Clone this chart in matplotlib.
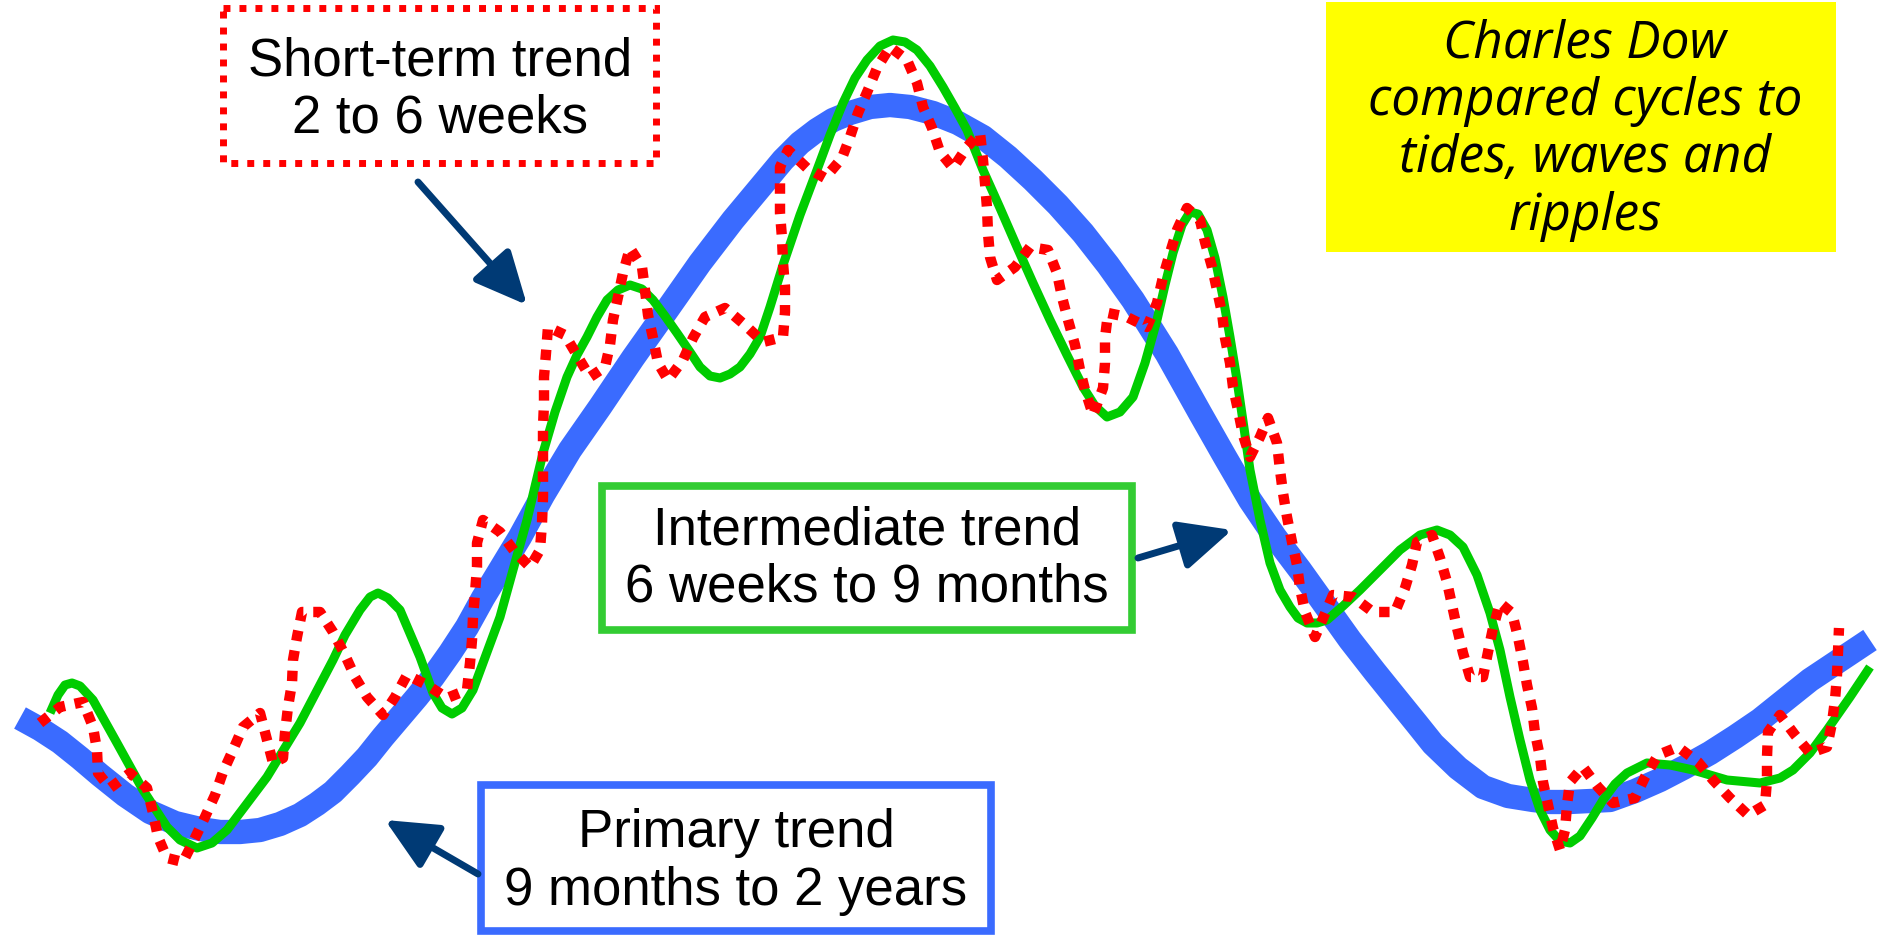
import matplotlib.pyplot as plt
from matplotlib.patches import Rectangle

# primary trend (thick blue)
blue_x = [20, 40, 60, 80, 100, 125, 150, 175, 200, 220, 240, 260, 280, 300, 317, 333, 350, 367, 383, 400,
          417, 433, 450, 467, 483, 500, 520, 543, 570, 600, 633, 667, 700, 733, 758, 783, 800, 817, 833, 850,
          870, 890, 910, 933, 958, 983, 1008, 1033, 1058, 1083, 1108, 1133, 1167, 1200, 1225, 1250, 1275, 1300,
          1325, 1350, 1375, 1400, 1417, 1433, 1458, 1483, 1508, 1533, 1550, 1570, 1590, 1610, 1635, 1660, 1685,
          1710, 1735, 1760, 1785, 1810, 1840, 1870]
blue_y = [718, 729, 742, 758, 775, 795, 812, 823, 829, 832, 832, 830, 824, 815, 804, 792, 775, 757, 737, 717,
          697, 677, 653, 627, 598, 570, 537, 495, 450, 407, 358, 310, 263, 220, 190, 160, 143, 130, 120, 113,
          107, 105, 107, 113, 123, 137, 157, 180, 205, 233, 265, 300, 354, 413, 457, 500, 537, 570,
          605, 640, 672, 703, 724, 744, 768, 787, 796, 800, 802, 802, 801, 800, 791, 780, 767,
          753, 737, 720, 700, 680, 660, 640]

# intermediate trend (green)
green_x = [50, 58, 65, 72, 80, 93, 117, 143, 167, 180, 197, 212, 227, 267, 300, 333, 345, 360, 370, 378,
           388, 400, 420, 433, 442, 452, 462, 473, 500, 513, 527, 543, 555, 567, 577, 587, 597, 607, 618, 630,
           642, 653, 665, 677, 690, 700, 710, 720, 730, 740, 750, 760, 770, 783, 800, 817, 830, 843, 855, 867,
           880, 893, 905, 917, 930, 943, 955, 967, 983, 1000, 1017, 1033, 1050, 1067, 1083, 1095, 1107, 1120,
           1133, 1145, 1157, 1165, 1173, 1182, 1190, 1198, 1207, 1215, 1223, 1230, 1237, 1244, 1250, 1260, 1270,
           1280, 1290, 1298, 1307, 1317, 1327, 1343, 1360, 1380, 1400, 1420, 1437, 1450, 1463, 1477, 1490, 1500,
           1510, 1520, 1530, 1540, 1550, 1560, 1570, 1580, 1592, 1603, 1615, 1627, 1647, 1670, 1693, 1727, 1760,
           1780, 1793, 1810, 1827, 1850, 1870]
green_y = [713, 695, 685, 683, 686, 700, 743, 790, 827, 840, 848, 843, 830, 777, 723, 660, 635, 610, 597, 593,
           598, 610, 657, 693, 708, 714, 708, 690, 617, 570, 520, 453, 412, 377, 355, 337, 317, 300, 290, 285,
           289, 300, 316, 333, 352, 367, 376, 378, 374, 367, 354, 337, 307, 265, 215, 170, 135, 103, 78, 60,
           46, 40, 42, 50, 66, 87, 108, 130, 170, 208, 247, 283, 320, 355, 387, 406, 417, 412,
           397, 363, 320, 285, 253, 225, 212, 214, 230, 258, 297, 337, 380, 428, 470, 520, 563,
           590, 607, 618, 623, 623, 620, 606, 590, 570, 550, 535, 530, 535, 547, 575, 613, 650,
           697, 740, 780, 810, 830, 841, 843, 836, 818, 800, 784, 773, 763, 765, 770, 780, 783,
           778, 770, 753, 730, 697, 667]

# short-term trend (red dotted)
red_x = [40, 60, 83, 93, 97, 98, 110, 130, 147, 153, 158, 167, 183, 195, 205, 215, 223, 233, 243, 260,
         267, 273, 283, 285, 288, 292, 293, 297, 302, 320, 333, 345, 355, 367, 383, 395, 407, 427, 447, 467,
         470, 472, 473, 475, 477, 477, 483, 500, 515, 530, 540, 542, 543, 543, 543, 543, 544, 544, 546, 548,
         565, 578, 590, 605, 610, 613, 618, 623, 630, 642, 645, 648, 653, 658, 668, 683, 693, 705, 725, 745,
         763, 783, 785, 785, 783, 782, 780, 780, 780, 788, 807, 825, 842, 850, 858, 868, 877, 890, 907, 917,
         923, 932, 940, 953, 967, 980, 983, 985, 987, 988, 990, 997, 1015, 1030, 1048, 1057, 1062, 1068, 1075,
         1080, 1085, 1093, 1103, 1105, 1105, 1108, 1127, 1147, 1157, 1163, 1170, 1177, 1187, 1200, 1205, 1212,
         1217, 1222, 1225, 1230, 1233, 1238, 1243, 1250, 1260, 1268, 1277, 1280, 1283, 1287, 1292, 1297, 1300,
         1305, 1315, 1333, 1353, 1373, 1395, 1405, 1412, 1417, 1432, 1440, 1447, 1452, 1457, 1463, 1470, 1483,
         1488, 1493, 1500, 1512, 1518, 1523, 1527, 1532, 1535, 1540, 1543, 1548, 1553, 1560, 1565, 1567, 1570,
         1583, 1598, 1613, 1635, 1645, 1658, 1678, 1698, 1713, 1730, 1748, 1765, 1767, 1767, 1768, 1780, 1795,
         1810, 1827, 1832, 1835, 1837, 1838, 1839]
red_y = [723, 707, 702, 727, 750, 773, 788, 773, 788, 813, 837, 858, 862, 838, 817, 795, 772, 750, 727, 713,
         740, 763, 758, 733, 707, 683, 660, 637, 612, 612, 632, 655, 677, 697, 715, 697, 675, 685, 698, 690,
         663, 640, 617, 593, 567, 543, 520, 532, 552, 567, 550, 523, 497, 473, 450, 427, 403, 377, 353, 327,
         335, 357, 377, 367, 345, 320, 297, 273, 248, 267, 290, 315, 338, 363, 380, 360, 338, 317, 308, 325,
         342, 337, 312, 287, 263, 238, 213, 190, 167, 150, 168, 178, 158, 137, 113, 90, 68, 47, 60, 83,
         107, 128, 152, 168, 147, 133, 160, 183, 208, 233, 257, 280, 267, 247, 250, 273, 297, 320, 345,
         370, 390, 415, 388, 363, 338, 313, 317, 327, 303, 277, 253, 230, 208, 220, 242, 267,
         290, 313, 338, 363, 387, 410, 435, 457, 437, 418, 443, 470, 493, 517, 542, 565, 588,
         612, 637, 595, 597, 612, 612, 588, 565, 542, 535, 558, 582, 605, 628, 653, 677, 677,
         652, 628, 603, 613, 637, 662, 685, 708, 733, 757, 782, 805, 828, 850, 830, 805, 782,
         767, 787, 803, 798, 777, 755, 747, 762, 780, 798, 815, 805, 780, 757, 732, 715, 735,
         753, 747, 723, 700, 675, 652, 628]

short_label = "Short-term trend\n2 to 6 weeks"
inter_label = "Intermediate trend\n6 weeks to 9 months"
primary_label = "Primary trend\n9 months to 2 years"
dow_note = "Charles Dow\ncompared cycles to\ntides, waves and\nripples"

BLUE = "#3A6BFF"
GREEN = "#00CC00"
GREEN_BOX = "#33CC33"
RED = "#FF0000"
NAVY = "#003A75"

plt.rcParams['font.family'] = ['Liberation Sans', 'DejaVu Sans']

fig = plt.figure(figsize=(18.82, 9.44), dpi=100)
ax = fig.add_axes([0, 0, 1, 1])
ax.set_xlim(0, 1882)
ax.set_ylim(944, 0)
ax.axis('off')

ax.plot(blue_x, blue_y, color=BLUE, lw=17.5, solid_joinstyle='round', solid_capstyle='butt', zorder=2)
ax.plot(green_x, green_y, color=GREEN, lw=6.5, solid_joinstyle='round', solid_capstyle='butt', zorder=3)
red_line, = ax.plot(red_x, red_y, color=RED, lw=7.5, dash_capstyle='butt', zorder=4)
red_line.set_dashes((1, 0.95))

# label boxes
ax.add_patch(Rectangle((223, 8), 433, 155, facecolor='white', edgecolor=RED, lw=5,
                       linestyle=(0, (1, 1.3)), zorder=5))
ax.text(440, 90, short_label, ha='center', va='center', fontsize=38, linespacing=1.2, zorder=6)

ax.add_patch(Rectangle((602, 486), 530, 144, facecolor='white', edgecolor=GREEN_BOX, lw=5.5, zorder=5))
ax.text(867, 559, inter_label, ha='center', va='center', fontsize=38, linespacing=1.2, zorder=6)

ax.add_patch(Rectangle((481, 785), 510, 146, facecolor='white', edgecolor=BLUE, lw=5.5, zorder=5))
ax.text(736, 862, primary_label, ha='center', va='center', fontsize=38, linespacing=1.2, zorder=6)

ax.add_patch(Rectangle((1326, 2), 510, 250, facecolor='#FFFF00', edgecolor='none', zorder=5))
ax.text(1585, 130, dow_note, ha='center', va='center', fontsize=37, linespacing=1.17,
        family=['Open Sans', 'DejaVu Sans'], style='italic', zorder=6)

# arrows
arrow_kw = dict(arrowstyle='-|>,head_length=1.6,head_width=0.75', color=NAVY, lw=5,
                mutation_scale=20, shrinkA=0, shrinkB=0)
ax.annotate('', xy=(527, 305), xytext=(418, 182), arrowprops=arrow_kw, zorder=7)
ax.annotate('', xy=(1232, 530), xytext=(1138, 558), arrowprops=arrow_kw, zorder=7)
ax.annotate('', xy=(385, 820), xytext=(478, 874), arrowprops=arrow_kw, zorder=7)

fig.savefig('out.png', dpi=100)
